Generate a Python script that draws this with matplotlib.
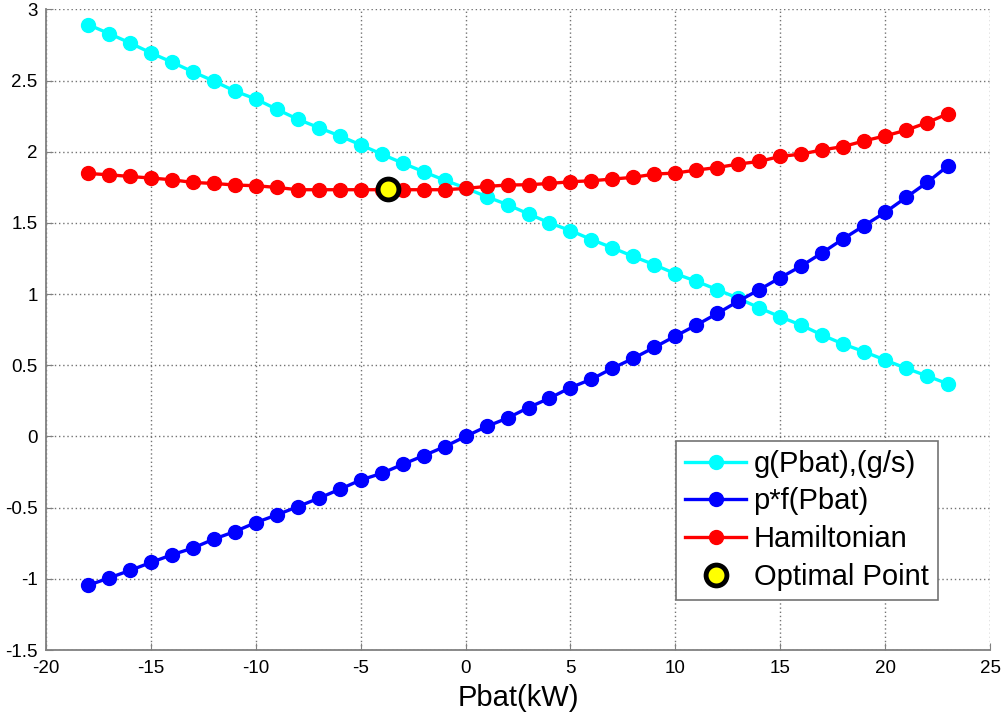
import matplotlib
matplotlib.use('Agg')
import matplotlib.pyplot as plt

# Battery power sweep [kW]
pbat = list(range(-18, 24))

# fuel rate g(Pbat) [g/s]
g_fuel = [2.893, 2.830, 2.764, 2.694, 2.629, 2.561, 2.496, 2.426, 2.370, 2.298,
          2.228, 2.169, 2.111, 2.048, 1.983, 1.920, 1.859, 1.800, 1.745, 1.684,
          1.628, 1.563, 1.500, 1.446, 1.383, 1.325, 1.264, 1.206, 1.143, 1.090,
          1.031, 0.970, 0.903, 0.840, 0.782, 0.712, 0.649, 0.595, 0.537, 0.479,
          0.425, 0.369]

# co-state times battery term p*f(Pbat)
pf_batt = [-1.046, -0.994, -0.941, -0.885, -0.831, -0.784, -0.721, -0.668, -0.605, -0.551,
           -0.493, -0.434, -0.371, -0.306, -0.259, -0.196, -0.135, -0.072, 0.000, 0.070,
           0.129, 0.203, 0.269, 0.343, 0.402, 0.479, 0.549, 0.626, 0.705, 0.782,
           0.864, 0.950, 1.031, 1.115, 1.197, 1.290, 1.388, 1.481, 1.574, 1.679,
           1.784, 1.901]

# Hamiltonian H = g + p*f
hamilton = [1.847, 1.838, 1.826, 1.815, 1.803, 1.784, 1.777, 1.766, 1.761, 1.749,
            1.733, 1.733, 1.733, 1.733, 1.733, 1.733, 1.733, 1.733, 1.742, 1.756,
            1.766, 1.768, 1.777, 1.789, 1.796, 1.808, 1.820, 1.843, 1.850, 1.871,
            1.889, 1.913, 1.932, 1.967, 1.983, 2.013, 2.036, 2.076, 2.111, 2.151,
            2.204, 2.267]

# minimum of the Hamiltonian
opt_pbat = -3.72
opt_h = 1.738

plt.rcParams['font.family'] = ['Liberation Sans', 'DejaVu Sans']

fig = plt.figure(figsize=(10.05, 7.17), dpi=100)
ax = fig.add_axes([0.0458, 0.0934, 0.9393, 0.8936])

style = dict(marker='o', markersize=10, linewidth=2.4)
ax.plot(pbat, g_fuel, color='#00ffff', label='g(Pbat),(g/s)', **style)
ax.plot(pbat, pf_batt, color='#0000ff', label='p*f(Pbat)', **style)
ax.plot(pbat, hamilton, color='#ff0000', label='Hamiltonian', **style)
ax.plot([opt_pbat], [opt_h], linestyle='none', marker='o', markersize=15,
        markerfacecolor='#ffff00', markeredgecolor='black', markeredgewidth=3.5,
        label='Optimal Point')

ax.set_xlim(-20, 25)
ax.set_ylim(-1.5, 3)
ax.set_xticks(range(-20, 26, 5))
ax.set_yticks([-1.5, -1, -0.5, 0, 0.5, 1, 1.5, 2, 2.5, 3])
ax.set_yticklabels(['-1.5', '-1', '-0.5', '0', '0.5', '1', '1.5', '2', '2.5', '3'])
ax.set_xticklabels([str(v) for v in range(-20, 26, 5)])

ax.grid(True, color='0.45', linestyle=(0, (1, 2)), linewidth=1.0)
ax.set_axisbelow(True)
for side in ('top', 'right'):
    ax.spines[side].set_visible(False)
for side in ('left', 'bottom'):
    ax.spines[side].set_color('0.5')
    ax.spines[side].set_linewidth(1.3)
ax.tick_params(direction='in', length=5, color='0.5', labelsize=13.5)
ax.tick_params(axis='x', pad=7)
ax.tick_params(axis='y', pad=6)

ax.set_xlabel('Pbat(kW)', fontsize=21, labelpad=5)

leg = ax.legend(loc='lower left', bbox_to_anchor=(0.667, 0.078), borderaxespad=0,
                fontsize=21, fancybox=False, framealpha=1, edgecolor='0.45',
                handlelength=2.1, handletextpad=0.25, labelspacing=0.33,
                borderpad=0.32)
leg.get_frame().set_linewidth(1.2)

fig.savefig('out.png', dpi=100)
